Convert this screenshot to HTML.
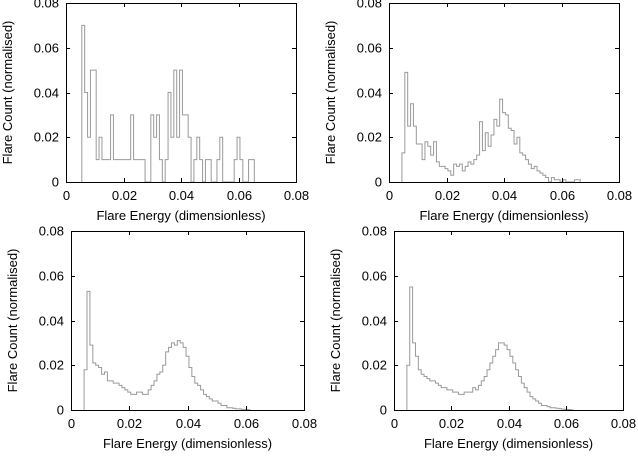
<!DOCTYPE html>
<html><head><meta charset="utf-8"><style>
body{margin:0;background:#fff;width:638px;height:451px;overflow:hidden}
svg text{font-family:"Liberation Sans",sans-serif;font-size:13px;fill:#000}
</style></head><body>
<svg id="s" width="638" height="451"></svg>
<script>
const xTicks=[0,0.02,0.04,0.06,0.08];
const yTicks=[0,0.02,0.04,0.06,0.08];
const tickLabels=["0","0.02","0.04","0.06","0.08"];
const binWidth=0.001;
const startTL=0.0055, startTR=0.0045, startBL=0.0045, startBR=0.0045;
const valuesTL=[0.07,0.04,0.02,0.05,0.05,0.01,0.02,0.01,0.01,0.01,0.03,0.01,0.01,0.01,0.01,0.01,0.01,0.03,0.01,0.01,0.01,0.01,0.0,0.0,0.03,0.02,0.03,0.01,0.0,0.01,0.04,0.02,0.05,0.02,0.05,0.03,0.03,0.02,0.0,0.01,0.02,0.01,0.0,0.01,0.01,0.0,0.0,0.01,0.02,0.0,0.0,0.0,0.0,0.01,0.02,0.01,0.0,0.0,0.01,0.01];
const valuesTR=[0.013,0.049,0.025,0.035,0.025,0.017,0.017,0.010,0.018,0.016,0.012,0.018,0.009,0.007,0.007,0.006,0.005,0.003,0.008,0.007,0.008,0.005,0.007,0.009,0.008,0.010,0.012,0.027,0.014,0.022,0.016,0.021,0.028,0.025,0.037,0.031,0.030,0.024,0.023,0.017,0.020,0.013,0.012,0.010,0.008,0.006,0.007,0.005,0.004,0.003,0.002,0.000,0.002,0.001,0.001,0,0.001,0,0,0,0.001,0.001];
const valuesBL=[0.018,0.053,0.029,0.021,0.020,0.019,0.016,0.017,0.013,0.013,0.012,0.012,0.011,0.010,0.009,0.008,0.007,0.007,0.008,0.008,0.007,0.007,0.009,0.011,0.013,0.016,0.017,0.020,0.026,0.028,0.030,0.029,0.031,0.030,0.028,0.024,0.019,0.015,0.012,0.011,0.009,0.007,0.006,0.005,0.004,0.004,0.003,0.002,0.002,0.001,0.001,0.0008,0.0005,0.0005,0.0003,0.0003,0.0001];
const valuesBR=[0.020,0.055,0.030,0.024,0.018,0.016,0.015,0.014,0.013,0.013,0.012,0.011,0.010,0.010,0.009,0.009,0.008,0.008,0.007,0.007,0.008,0.008,0.008,0.010,0.009,0.011,0.013,0.015,0.018,0.021,0.024,0.027,0.030,0.030,0.029,0.027,0.024,0.021,0.018,0.015,0.012,0.010,0.008,0.006,0.005,0.004,0.003,0.002,0.002,0.0015,0.001,0.001,0.0008,0.0006,0.0004,0.0003,0.0002,0.0001];
const NS="http://www.w3.org/2000/svg";
const svg=document.getElementById('s');
function mk(t,a,p){const e=document.createElementNS(NS,t);for(const k in a)e.setAttribute(k,a[k]);(p||svg).appendChild(e);return e;}
function panel(id,L,R,T,B,ylx,vals,start){
  const g=mk('g',{});
  
  
  const xs=v=>L+(v/0.08)*(R-L), ys=v=>B-(v/0.08)*(B-T);
  let d='M'+xs(start)+','+ys(0);
  vals.forEach((v,i)=>{const x0=xs(start+i*binWidth),x1=xs(start+(i+1)*binWidth);d+=' L'+x0+','+ys(v)+' L'+x1+','+ys(v);});
  d+=' L'+xs(start+vals.length*binWidth)+','+ys(0);
  const h=mk('path',{d:d,fill:'none',stroke:'#9a9a9a','stroke-width':1},g);
  
  
  const f=mk('rect',{x:L+.5,y:T+.5,width:R-L,height:B-T,fill:'none',stroke:'#000','stroke-width':1},g);
  
  
  xTicks.forEach((v,i)=>{const x=Math.round(xs(v))+.5;
    mk('line',{x1:x,x2:x,y1:B,y2:B-4,stroke:'#000'},g);mk('line',{x1:x,x2:x,y1:T,y2:T+4,stroke:'#000'},g);
    const t=mk('text',{x:x,y:B+18,'text-anchor':'middle'},g);t.textContent=tickLabels[i];
    
    });
  yTicks.forEach((v,i)=>{const y=Math.round(ys(v))+.5;
    mk('line',{x1:L,x2:L+4,y1:y,y2:y,stroke:'#000'},g);mk('line',{x1:R,x2:R-4,y1:y,y2:y,stroke:'#000'},g);
    const t=mk('text',{x:L-7,y:y+4,'text-anchor':'end'},g);t.textContent=tickLabels[i];
    
    });
  const xl=mk('text',{x:(L+R)/2,y:B+38,'text-anchor':'middle'},g);xl.textContent='Flare Energy (dimensionless)';
  
  
  const cy=(T+B)/2;
  const yl=mk('text',{x:ylx,y:cy,'text-anchor':'middle',transform:'rotate(-90 '+ylx+' '+cy+')'},g);yl.textContent='Flare Count (normalised)';
  
  
}
panel('top-left',66,296,3,182,12,valuesTL,startTL);
panel('top-right',389,619,3,182,335,valuesTR,startTR);
panel('bottom-left',71,304,231,410,17,valuesBL,startBL);
panel('bottom-right',394,623,231,410,340,valuesBR,startBR);
</script>
</body></html>
